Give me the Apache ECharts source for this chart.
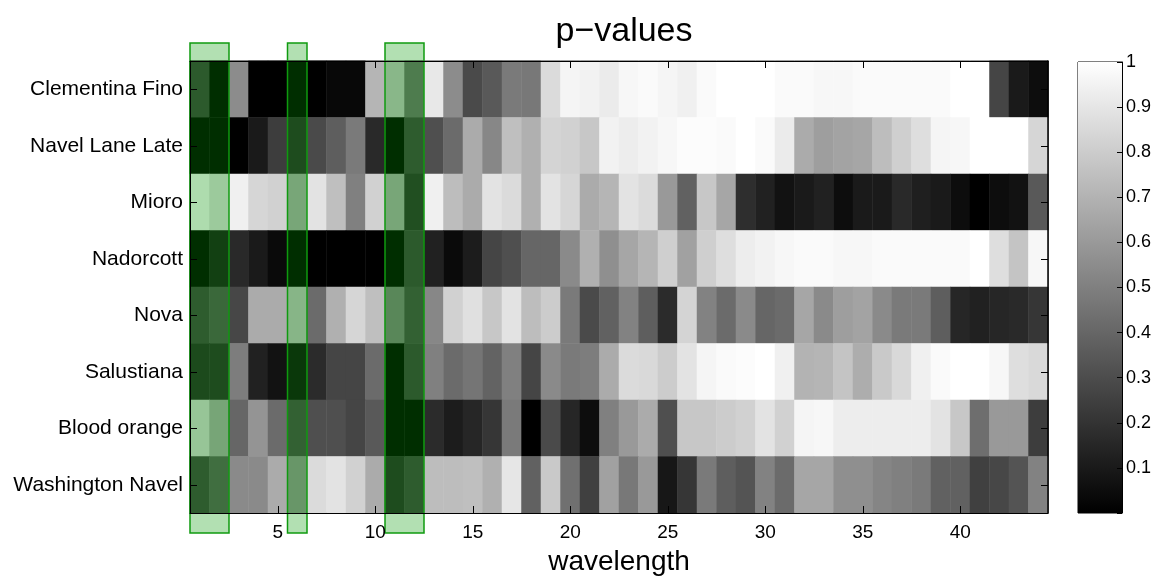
<!DOCTYPE html>
<html>
<head>
<meta charset="utf-8">
<script src="https://cdn.jsdelivr.net/npm/echarts@6.0.0/dist/echarts.min.js"></script>
<style>
html,body{margin:0;padding:0;background:#fff;}
#chart{width:1160px;height:576px;}
</style>
</head>
<body>
<div id="chart"></div>
<script>
// ---- data ----
const varieties = ['Clementina Fino','Navel Lane Late','Mioro','Nadorcott','Nova','Salustiana','Blood orange','Washington Navel'];
const wavelengths = [];
for (let i = 1; i <= 44; i++) wavelengths.push(String(i));
const colorbarTicks = [0.1,0.2,0.3,0.4,0.5,0.6,0.7,0.8,0.9,1];

const clementinaFino = [0.25,0.0,0.55,0.0,0.0,0.0,0.0,0.03,0.03,0.71, 0.77,0.44,0.91,0.55,0.29,0.35,0.48,0.47,0.86,0.96, 0.95,0.92,0.97,0.98,0.96,0.94,0.98,1.0,1.0,1.0, 0.98,0.98,0.97,0.97,0.98,0.98,0.98,0.98,0.98,1.0, 1.0,0.27,0.1,0.05];
const navelLaneLate = [0.0,0.0,0.0,0.1,0.24,0.17,0.29,0.37,0.48,0.16, 0.0,0.26,0.31,0.42,0.67,0.53,0.75,0.69,0.83,0.82, 0.78,0.95,0.93,0.95,0.97,0.99,0.99,0.98,1.0,0.98, 0.92,0.67,0.62,0.64,0.65,0.74,0.81,0.87,0.96,0.97, 1.0,1.0,1.0,0.84];
const mioro = [0.98,0.88,0.94,0.84,0.82,0.68,0.89,0.75,0.5,0.82, 0.68,0.19,0.94,0.74,0.67,0.89,0.86,0.69,0.89,0.84, 0.67,0.71,0.89,0.86,0.6,0.38,0.78,0.65,0.18,0.13, 0.07,0.1,0.13,0.05,0.1,0.1,0.16,0.12,0.1,0.05, 0.0,0.05,0.07,0.35];
const nadorcott = [0.0,0.1,0.16,0.1,0.04,0.0,0.0,0.0,0.0,0.0, 0.0,0.25,0.13,0.04,0.11,0.27,0.31,0.4,0.4,0.54, 0.69,0.56,0.65,0.71,0.81,0.63,0.81,0.87,0.93,0.95, 0.97,0.98,0.98,0.97,0.97,0.98,0.98,0.98,0.98,0.98, 1.0,0.87,0.77,0.97];
const nova = [0.26,0.33,0.28,0.67,0.67,0.76,0.42,0.69,0.84,0.75, 0.5,0.29,0.53,0.82,0.88,0.78,0.89,0.74,0.8,0.48, 0.29,0.38,0.51,0.37,0.17,0.83,0.51,0.42,0.54,0.4, 0.42,0.65,0.54,0.62,0.64,0.54,0.48,0.48,0.37,0.15, 0.13,0.15,0.16,0.21];
const salustiana = [0.16,0.17,0.49,0.13,0.07,0.06,0.17,0.27,0.27,0.42, 0.0,0.25,0.5,0.42,0.46,0.39,0.5,0.27,0.54,0.48, 0.49,0.67,0.86,0.85,0.8,0.89,0.96,0.98,0.99,1.0, 0.94,0.7,0.71,0.77,0.68,0.79,0.85,0.94,0.98,1.0, 1.0,0.97,0.87,0.85];
const bloodOrange = [0.85,0.67,0.4,0.58,0.42,0.29,0.31,0.31,0.27,0.35, 0.0,0.0,0.17,0.11,0.15,0.21,0.48,0.0,0.29,0.15, 0.05,0.5,0.6,0.67,0.31,0.78,0.78,0.8,0.82,0.89, 0.82,0.96,0.97,0.93,0.93,0.93,0.93,0.93,0.89,0.78, 0.43,0.6,0.6,0.24];
const washingtonNavel = [0.26,0.36,0.54,0.54,0.67,0.59,0.86,0.89,0.82,0.67, 0.17,0.26,0.74,0.74,0.75,0.69,0.9,0.38,0.79,0.44, 0.25,0.63,0.47,0.6,0.09,0.21,0.48,0.37,0.33,0.51, 0.42,0.65,0.65,0.56,0.56,0.52,0.5,0.48,0.38,0.38, 0.25,0.28,0.33,0.51];

// highlighted wavelength bands (first, last)
const highlightBands = [['1','2'],['6','6'],['11','12']];

// ---- build ----
const rows = [clementinaFino, navelLaneLate, mioro, nadorcott, nova, salustiana, bloodOrange, washingtonNavel];
const heatData = [];
rows.forEach((r, yi) => r.forEach((v, xi) => heatData.push([xi, yi, v])));

const FONT = "'Liberation Sans', Arial, Helvetica, sans-serif";
const tickEvery5 = (idx) => (idx + 1) % 5 === 0;

const chart = echarts.init(document.getElementById('chart'), null, {renderer: 'canvas'});
chart.setOption({
  animation: false,
  backgroundColor: '#fff',
  textStyle: {fontFamily: FONT, color: '#000'},
  title: {
    text: 'p\u2212values', left: 619, top: 10, textAlign: 'center',
    textStyle: {fontFamily: FONT, fontSize: 34, fontWeight: 'normal', color: '#000'}
  },
  grid: [
    {left: 190, right: 112, top: 61, bottom: 63, show: true, borderColor: '#000', borderWidth: 1, backgroundColor: 'transparent', containLabel: false, outerBoundsMode: 'none'},
    {left: 1078, right: 38, top: 62, bottom: 63, show: true, borderColor: '#000', borderWidth: 1, containLabel: false, outerBoundsMode: 'none'}
  ],
  xAxis: [
    {type: 'category', data: wavelengths, gridIndex: 0, position: 'bottom', z: 10,
     name: 'wavelength', nameLocation: 'middle', nameGap: 35,
     nameTextStyle: {fontFamily: FONT, fontSize: 28, color: '#000'},
     axisLine: {show: true, lineStyle: {color: '#000', width: 1}},
     axisTick: {show: true, inside: true, length: 7, alignWithLabel: true, interval: tickEvery5, lineStyle: {color: '#000'}},
     axisLabel: {show: true, interval: tickEvery5, fontFamily: FONT, fontSize: 19, color: '#000', margin: 10},
     splitLine: {show: false}},
    {type: 'category', data: wavelengths, gridIndex: 0, position: 'top', z: 10,
     axisLine: {show: true, lineStyle: {color: '#000', width: 1}},
     axisTick: {show: true, inside: true, length: 7, alignWithLabel: true, interval: tickEvery5, lineStyle: {color: '#000'}},
     axisLabel: {show: false}, splitLine: {show: false}},
    {type: 'category', data: ['cb'], gridIndex: 1, show: false}
  ],
  yAxis: [
    {type: 'category', data: varieties, gridIndex: 0, inverse: true, position: 'left', z: 10,
     axisLine: {show: true, lineStyle: {color: '#000', width: 1}},
     axisTick: {show: true, inside: true, length: 7, alignWithLabel: true, lineStyle: {color: '#000'}},
     axisLabel: {fontFamily: FONT, fontSize: 21, color: '#000', margin: 7},
     splitLine: {show: false}},
    {type: 'category', data: varieties, gridIndex: 0, inverse: true, position: 'right', z: 10,
     axisLine: {show: true, lineStyle: {color: '#000', width: 1.5}},
     axisTick: {show: true, inside: true, length: 7, alignWithLabel: true, lineStyle: {color: '#000'}},
     axisLabel: {show: false}, splitLine: {show: false}},
    {type: 'value', gridIndex: 1, min: 0, max: 1, interval: 0.1, position: 'right', z: 10,
     axisLine: {show: true, lineStyle: {color: '#000'}},
     axisTick: {show: true, inside: true, length: 5, lineStyle: {color: '#000'}},
     axisLabel: {fontFamily: FONT, fontSize: 18, color: '#000', margin: 4,
       formatter: (v) => colorbarTicks.some(t => Math.abs(t - v) < 1e-6) ? String(Math.round(v * 10) / 10) : ''},
     splitLine: {show: false}}
  ],
  visualMap: {
    type: 'continuous', min: 0, max: 1, show: false, seriesIndex: 0,
    inRange: {color: ['#000000', '#ffffff']}
  },
  series: [
    {type: 'heatmap', xAxisIndex: 0, yAxisIndex: 0, data: heatData, itemStyle: {borderWidth: 0}, emphasis: {disabled: true}},
    {type: 'custom', xAxisIndex: 0, yAxisIndex: 0, clip: false, z: 5,
     data: highlightBands,
     encode: {x: [0, 1]},
     renderItem: function (params, api) {
       const s = api.value(0), e = api.value(1);
       const w = api.size([1, 0])[0];
       const x0 = api.coord([s, 0])[0] - w / 2;
       const x1 = api.coord([e, 0])[0] + w / 2;
       const cs = params.coordSys;
       return {type: 'rect',
         shape: {x: x0, y: cs.y - 18, width: x1 - x0, height: cs.height + 38},
         style: {fill: 'rgba(0,153,0,0.3)', stroke: '#0f9a0f', lineWidth: 1.5}};
     }},
    {type: 'bar', xAxisIndex: 2, yAxisIndex: 2, data: [1], barWidth: '100%', silent: true,
     itemStyle: {color: new echarts.graphic.LinearGradient(0, 0, 0, 1, [{offset: 0, color: '#ffffff'}, {offset: 1, color: '#000000'}])}}
  ]
});
</script>
</body>
</html>
